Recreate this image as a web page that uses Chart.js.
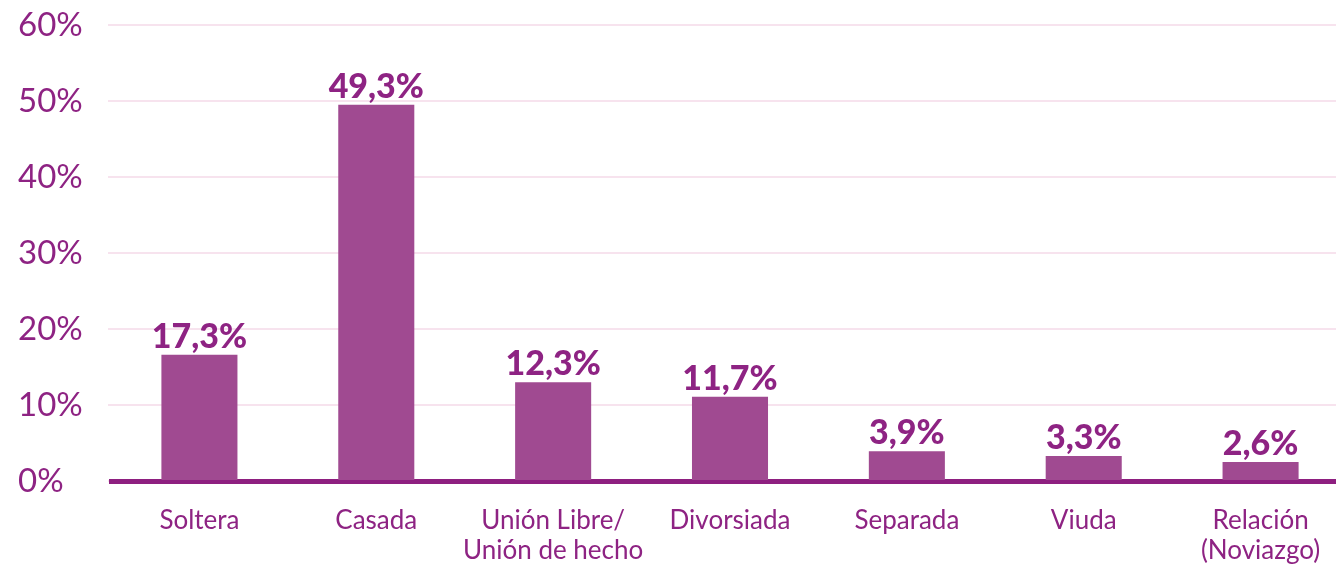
<!DOCTYPE html>
<html>
<head>
<meta charset="utf-8">
<script src="https://cdn.jsdelivr.net/npm/chart.js@4"></script>
<style>
  html, body { margin: 0; padding: 0; background: #fff; overflow: hidden; }
  #chart { display: block; }
</style>
</head>
<body>
<canvas id="chart" width="1349" height="568" style="width:1349px;height:568px"></canvas>
<script>
const categories = [
    "Soltera",
    "Casada",
    ["Unión Libre/", "Unión de hecho"],
    "Divorsiada",
    "Separada",
    "Viuda",
    ["Relación", "(Noviazgo)"],
];
// bar heights as drawn in the picture
const values = [16.6, 49.5, 13.0, 11.1, 3.9, 3.3, 2.5];
// printed labels above the bars
const valueLabels = ["17,3%", "49,3%", "12,3%", "11,7%", "3,9%", "3,3%", "2,6%"];
const yTicks = [0, 10, 20, 30, 40, 50, 60];

const barColor = "#a04a91";
const textColor = "#8e2383";
const axisColor = "#8e1f80";
const gridColor = "#f7e3ee";
const fontFamily = "Lato, 'Open Sans', sans-serif";

const valueLabelPlugin = {
    id: "valueLabels",
    afterDatasetsDraw(chart) {
        const ctx = chart.ctx;
        const meta = chart.getDatasetMeta(0);
        ctx.save();
        ctx.font = "900 34px " + fontFamily;
        ctx.fillStyle = textColor;
        ctx.textAlign = "center";
        ctx.textBaseline = "bottom";
        meta.data.forEach((bar, i) => {
            ctx.fillText(valueLabels[i], bar.x, bar.y - 1);
        });
        ctx.restore();
    },
};

new Chart(document.getElementById("chart"), {
    type: "bar",
    data: {
        labels: categories,
        datasets: [
            {
                data: values,
                backgroundColor: barColor,
                categoryPercentage: 1,
                barPercentage: 0.43,
            },
        ],
    },
    options: {
        responsive: false,
        animation: false,
        layout: { padding: { left: 18, top: 25, right: 0, bottom: 0 } },
        plugins: {
            legend: { display: false },
            tooltip: { enabled: false },
        },
        scales: {
            x: {
                z: 1,
                grid: { display: false },
                border: { display: true, color: axisColor, width: 5 },
                ticks: {
                    color: textColor,
                    font: { family: fontFamily, size: 26, lineHeight: 1.17 },
                    padding: 16,
                    maxRotation: 0,
                    autoSkip: false,
                },
                afterFit(scale) {
                    scale.height = 87;
                },
            },
            y: {
                min: 0,
                max: 60,
                afterBuildTicks(scale) {
                    scale.ticks = yTicks.map((v) => ({ value: v }));
                },
                grid: {
                    color: gridColor,
                    lineWidth: 2,
                    drawTicks: true,
                    tickLength: 3,
                },
                border: { display: false },
                ticks: {
                    color: textColor,
                    font: { family: fontFamily, size: 33 },
                    crossAlign: "far",
                    padding: 0,
                    callback: (v) => v + "%",
                },
                afterFit(scale) {
                    scale.width = 93;
                },
            },
        },
    },
    plugins: [valueLabelPlugin],
});
</script>
</body>
</html>
